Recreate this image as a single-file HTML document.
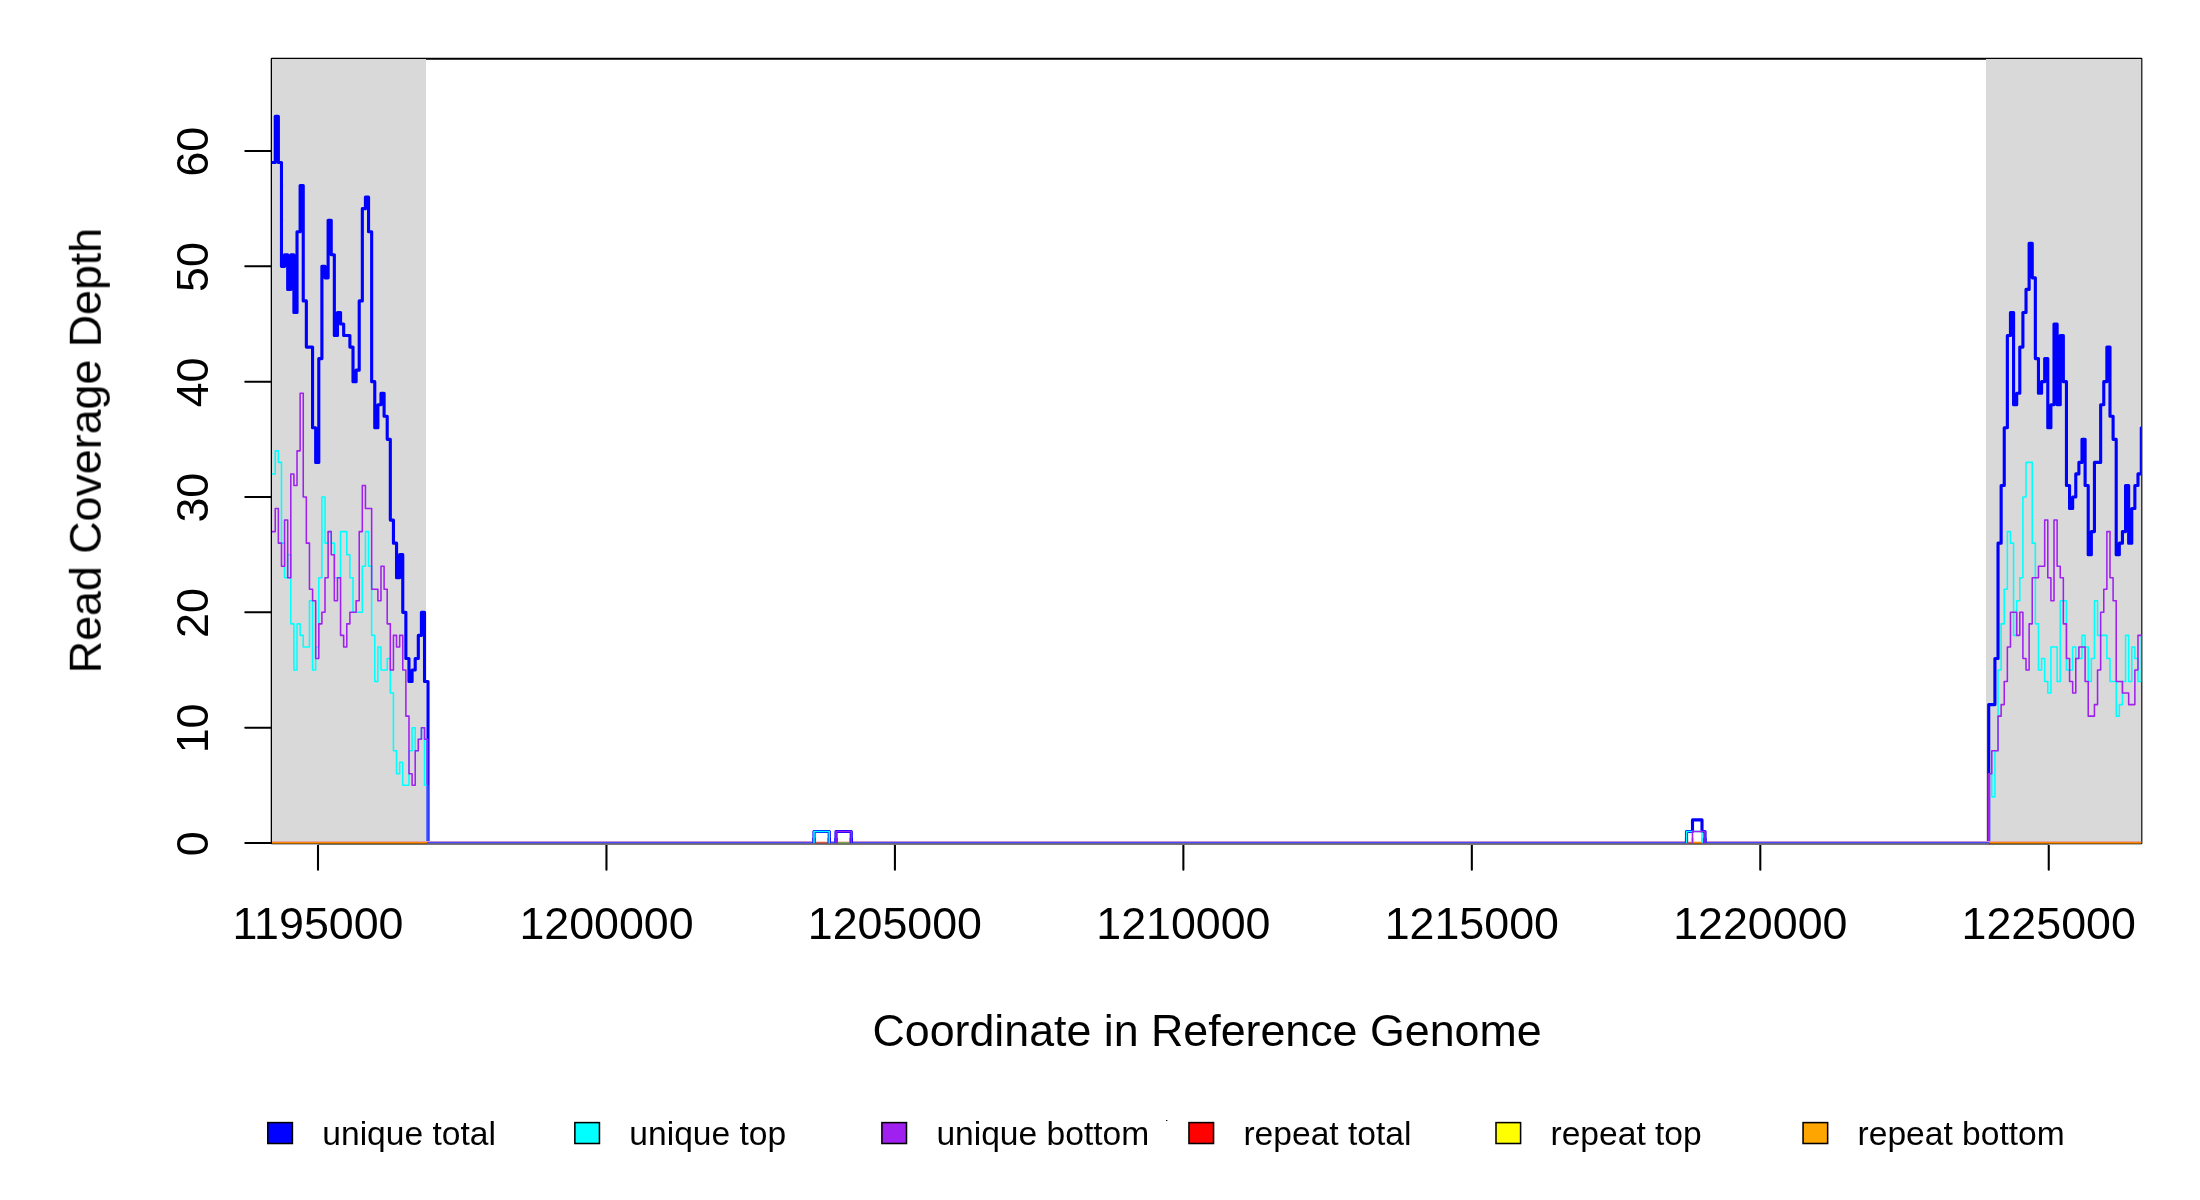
<!DOCTYPE html>
<html><head><meta charset="utf-8"><title>Read coverage</title>
<style>
html,body{margin:0;padding:0;background:#fff;}
body{width:2200px;height:1200px;overflow:hidden;font-family:"Liberation Sans",sans-serif;}
svg{display:block}
text{font-family:"Liberation Sans",sans-serif;fill:#000}
</style></head><body>
<svg width="2200" height="1200" viewBox="0 0 2200 1200">
<defs><clipPath id="plot"><rect x="272" y="59" width="1869.3" height="784"/></clipPath></defs>
<rect width="2200" height="1200" fill="#fff"/>

<g stroke="#000" stroke-width="2.08" fill="none" stroke-linecap="round" stroke-linejoin="round">
<path d="M271.75 843.2V58.75H2141.35V843.2"/>
<path d="M271.5 843.00H245.3"/>
<path d="M271.5 727.67H245.3"/>
<path d="M271.5 612.33H245.3"/>
<path d="M271.5 497.00H245.3"/>
<path d="M271.5 381.67H245.3"/>
<path d="M271.5 266.33H245.3"/>
<path d="M271.5 151.00H245.3"/>
<path d="M318 843.75H2048.75"/>
<path d="M318.00 843.5V869.8"/>
<path d="M606.46 843.5V869.8"/>
<path d="M894.92 843.5V869.8"/>
<path d="M1183.37 843.5V869.8"/>
<path d="M1471.83 843.5V869.8"/>
<path d="M1760.29 843.5V869.8"/>
<path d="M2048.75 843.5V869.8"/>
</g>
<rect x="272" y="59" width="154" height="784" fill="#d9d9d9"/>
<rect x="1986" y="59" width="155.25" height="784" fill="#d9d9d9"/>
<g fill="none" stroke-linejoin="round" stroke-linecap="round" clip-path="url(#plot)">
<path d="M272.00 162.53H275.25V116.40H278.36V162.53H281.47V266.33H284.58V254.80H287.69V289.40H290.80V254.80H293.91V312.47H297.02V231.73H300.13V185.60H303.24V300.93H306.35V347.07H309.46V347.07H312.57V427.80H315.68V462.40H318.79V358.60H321.90V266.33H325.01V277.87H328.12V220.20H331.23V254.80H334.34V335.53H337.45V312.47H340.56V324.00H343.67V335.53H346.78V335.53H349.89V347.07H353.00V381.67H356.11V370.13H359.22V300.93H362.33V208.67H365.44V197.13H368.55V231.73H371.66V381.67H374.77V427.80H377.88V404.73H380.99V393.20H384.10V416.27H387.21V439.33H390.32V520.07H393.43V543.13H396.54V577.73H399.65V554.67H402.76V612.33H405.87V658.47H408.98V681.53H412.09V670.00H415.20V658.47H418.31V635.40H421.42V612.33H424.53V681.53H428.00V843.00H814.00V831.47H829.25V843.00H836.00V831.47H851.25V843.00H1686.50V831.47H1692.50V819.93H1702.00V831.47H1705.00V843.00H1988.70V704.60H1991.81V704.60H1994.92V658.47H1998.03V543.13H2001.14V485.47H2004.25V427.80H2007.36V335.53H2010.47V312.47H2013.58V404.73H2016.69V393.20H2019.80V347.07H2022.91V312.47H2026.02V289.40H2029.13V243.27H2032.24V277.87H2035.35V358.60H2038.46V393.20H2041.57V381.67H2044.68V358.60H2047.79V427.80H2050.90V404.73H2054.01V324.00H2057.12V404.73H2060.23V335.53H2063.34V381.67H2066.45V485.47H2069.56V508.53H2072.67V497.00H2075.78V473.93H2078.89V462.40H2082.00V439.33H2085.11V485.47H2088.22V554.67H2091.33V531.60H2094.44V462.40H2097.55V462.40H2100.66V404.73H2103.77V381.67H2106.88V347.07H2109.99V416.27H2113.10V439.33H2116.21V554.67H2119.32V543.13H2122.43V531.60H2125.54V485.47H2128.65V543.13H2131.76V508.53H2134.87V485.47H2137.98V473.93H2141.30V427.80H2141.30" stroke="#0000ff" stroke-width="3.125"/>
<path d="M272.00 473.93H275.25V450.87H278.36V462.40H281.47V543.13H284.58V577.73H287.69V554.67H290.80V623.87H293.91V670.00H297.02V623.87H300.13V635.40H303.24V646.93H306.35V646.93H309.46V600.80H312.57V670.00H315.68V646.93H318.79V577.73H321.90V497.00H325.01V543.13H328.12V531.60H331.23V543.13H334.34V577.73H337.45V577.73H340.56V531.60H343.67V531.60H346.78V554.67H349.89V577.73H353.00V612.33H356.11V612.33H359.22V612.33H362.33V566.20H365.44V531.60H368.55V566.20H371.66V635.40H374.77V681.53H377.88V646.93H380.99V670.00H384.10V670.00H387.21V658.47H390.32V693.07H393.43V750.73H396.54V773.80H399.65V762.27H402.76V785.33H405.87V785.33H408.98V750.73H412.09V727.67H415.20V750.73H418.31V739.20H421.42V727.67H424.53V785.33H427.50V843.00H814.00V831.47H829.25V843.00H1686.50V831.47H1702.00V843.00H1988.70V773.80H1991.81V796.87H1994.92V750.73H1998.03V670.00H2001.14V623.87H2004.25V589.27H2007.36V531.60H2010.47V543.13H2013.58V635.40H2016.69V600.80H2019.80V577.73H2022.91V497.00H2026.02V462.40H2029.13V462.40H2032.24V543.13H2035.35V623.87H2038.46V670.00H2041.57V658.47H2044.68V681.53H2047.79V693.07H2050.90V646.93H2054.01V646.93H2057.12V681.53H2060.23V600.80H2063.34V600.80H2066.45V670.00H2069.56V670.00H2072.67V646.93H2075.78V658.47H2078.89V658.47H2082.00V635.40H2085.11V646.93H2088.22V681.53H2091.33V658.47H2094.44V600.80H2097.55V635.40H2100.66V635.40H2103.77V635.40H2106.88V658.47H2109.99V681.53H2113.10V681.53H2116.21V716.13H2119.32V704.60H2122.43V681.53H2125.54V635.40H2128.65V681.53H2131.76V646.93H2134.87V658.47H2137.98V681.53H2141.30V635.40H2141.30" stroke="#00ffff" stroke-width="1.56"/>
<path d="M272.00 531.60H275.25V508.53H278.36V543.13H281.47V566.20H284.58V520.07H287.69V577.73H290.80V473.93H293.91V485.47H297.02V450.87H300.13V393.20H303.24V497.00H306.35V543.13H309.46V589.27H312.57V600.80H315.68V658.47H318.79V623.87H321.90V612.33H325.01V577.73H328.12V531.60H331.23V554.67H334.34V600.80H337.45V577.73H340.56V635.40H343.67V646.93H346.78V623.87H349.89V612.33H353.00V612.33H356.11V600.80H359.22V531.60H362.33V485.47H365.44V508.53H368.55V508.53H371.66V589.27H374.77V589.27H377.88V600.80H380.99V566.20H384.10V589.27H387.21V623.87H390.32V670.00H393.43V635.40H396.54V646.93H399.65V635.40H402.76V670.00H405.87V716.13H408.98V773.80H412.09V785.33H415.20V750.73H418.31V739.20H421.42V727.67H424.53V739.20H427.50V843.00H836.00V831.47H851.25V843.00H1692.50V831.47H1705.00V843.00H1988.70V773.80H1991.81V750.73H1994.92V750.73H1998.03V716.13H2001.14V704.60H2004.25V681.53H2007.36V646.93H2010.47V612.33H2013.58V612.33H2016.69V635.40H2019.80V612.33H2022.91V658.47H2026.02V670.00H2029.13V623.87H2032.24V577.73H2035.35V577.73H2038.46V566.20H2041.57V566.20H2044.68V520.07H2047.79V577.73H2050.90V600.80H2054.01V520.07H2057.12V566.20H2060.23V577.73H2063.34V623.87H2066.45V658.47H2069.56V681.53H2072.67V693.07H2075.78V658.47H2078.89V646.93H2082.00V646.93H2085.11V681.53H2088.22V716.13H2091.33V716.13H2094.44V704.60H2097.55V670.00H2100.66V612.33H2103.77V589.27H2106.88V531.60H2109.99V577.73H2113.10V600.80H2116.21V681.53H2119.32V681.53H2122.43V693.07H2125.54V693.07H2128.65V704.60H2131.76V704.60H2134.87V670.00H2137.98V635.40H2141.30V635.40H2141.30" stroke="#a020f0" stroke-width="1.56"/>
</g>
<rect x="427.00" y="841" width="1562.40" height="1" fill="#c893d4"/><rect x="427.00" y="842" width="1562.40" height="1" fill="#4a4af8"/><rect x="427.00" y="843" width="1562.40" height="1" fill="#6a6292"/><rect x="427.00" y="844" width="1562.40" height="1" fill="#787878"/>
<rect x="272.00" y="841" width="46.00" height="1" fill="#e3a0a8"/><rect x="272.00" y="842" width="46.00" height="1" fill="#ff8c00"/><rect x="272.00" y="843" width="46.00" height="1" fill="#9f5d02"/><rect x="272.00" y="844" width="46.00" height="1" fill="#b0b4ba"/>
<rect x="318.00" y="841" width="109.00" height="1" fill="#e3a0a8"/><rect x="318.00" y="842" width="109.00" height="1" fill="#ff8c00"/><rect x="318.00" y="843" width="109.00" height="1" fill="#9a5c0a"/><rect x="318.00" y="844" width="109.00" height="1" fill="#70747a"/>
<rect x="1989.40" y="841" width="59.60" height="1" fill="#e3a0a8"/><rect x="1989.40" y="842" width="59.60" height="1" fill="#ff8c00"/><rect x="1989.40" y="843" width="59.60" height="1" fill="#9a5c0a"/><rect x="1989.40" y="844" width="59.60" height="1" fill="#70747a"/>
<rect x="2049.00" y="841" width="92.30" height="1" fill="#e3a0a8"/><rect x="2049.00" y="842" width="92.30" height="1" fill="#ff8c00"/><rect x="2049.00" y="843" width="92.30" height="1" fill="#9f5d02"/><rect x="2049.00" y="844" width="92.30" height="1" fill="#b0b4ba"/>
<rect x="815.50" y="841" width="12.20" height="1" fill="#fbd0c8"/><rect x="815.50" y="842" width="12.20" height="1" fill="#d05a5a"/><rect x="815.50" y="843" width="12.20" height="1" fill="#8a5050"/><rect x="815.50" y="844" width="12.20" height="1" fill="#787878"/>
<rect x="837.50" y="841" width="12.20" height="1" fill="#fbd0c8"/><rect x="837.50" y="842" width="12.20" height="1" fill="#78a858"/><rect x="837.50" y="843" width="12.20" height="1" fill="#6a7a50"/><rect x="837.50" y="844" width="12.20" height="1" fill="#787878"/>
<rect x="1688.00" y="841" width="4.00" height="1" fill="#fbd0c8"/><rect x="1688.00" y="842" width="4.00" height="1" fill="#d86060"/><rect x="1688.00" y="843" width="4.00" height="1" fill="#8a5050"/><rect x="1688.00" y="844" width="4.00" height="1" fill="#787878"/>
<rect x="1693.30" y="841" width="7.90" height="1" fill="#ffd8b0"/><rect x="1693.30" y="842" width="7.90" height="1" fill="#ff8c00"/><rect x="1693.30" y="843" width="7.90" height="1" fill="#9a5c0a"/><rect x="1693.30" y="844" width="7.90" height="1" fill="#787878"/>
<g fill="none" stroke-linejoin="round" stroke-linecap="butt" clip-path="url(#plot)">
<path d="M814 843V838M829.25 843V838M836 843V838M851.25 843V838M1686.5 843V838M1705 843V838" stroke="#0000ff" stroke-width="3.125"/>
<path d="M814 843V838M829.25 843V838M1686.5 843V838M1702 843V838" stroke="#00ffff" stroke-width="1.56"/>
<path d="M836 843V838M851.25 843V838M1692.5 843V838M1705 843V838" stroke="#a020f0" stroke-width="1.56"/>
</g>
<g style="will-change:opacity;opacity:0.999">
<text x="318.0" y="938.7" font-size="44.75" text-anchor="middle">1195000</text>
<text x="606.5" y="938.7" font-size="44.75" text-anchor="middle">1200000</text>
<text x="894.9" y="938.7" font-size="44.75" text-anchor="middle">1205000</text>
<text x="1183.4" y="938.7" font-size="44.75" text-anchor="middle">1210000</text>
<text x="1471.8" y="938.7" font-size="44.75" text-anchor="middle">1215000</text>
<text x="1760.3" y="938.7" font-size="44.75" text-anchor="middle">1220000</text>
<text x="2048.7" y="938.7" font-size="44.75" text-anchor="middle">1225000</text>
<text transform="translate(207.6 843.7) rotate(-90)" font-size="44.75" text-anchor="middle">0</text>
<text transform="translate(207.6 728.4) rotate(-90)" font-size="44.75" text-anchor="middle">10</text>
<text transform="translate(207.6 613.0) rotate(-90)" font-size="44.75" text-anchor="middle">20</text>
<text transform="translate(207.6 497.7) rotate(-90)" font-size="44.75" text-anchor="middle">30</text>
<text transform="translate(207.6 382.4) rotate(-90)" font-size="44.75" text-anchor="middle">40</text>
<text transform="translate(207.6 267.0) rotate(-90)" font-size="44.75" text-anchor="middle">50</text>
<text transform="translate(207.6 151.7) rotate(-90)" font-size="44.75" text-anchor="middle">60</text>
<text x="1207" y="1046.2" font-size="44.75" text-anchor="middle">Coordinate in Reference Genome</text>
<text transform="translate(100.8 450.5) rotate(-90)" font-size="44.75" text-anchor="middle">Read Coverage Depth</text>
<rect x="267.80" y="1122.6" width="24.6" height="20.9" fill="#0000ff" stroke="#000" stroke-width="1.55"/>
<text x="322.30" y="1144.8" font-size="33.6">unique total</text>
<rect x="574.85" y="1122.6" width="24.6" height="20.9" fill="#00ffff" stroke="#000" stroke-width="1.55"/>
<text x="629.35" y="1144.8" font-size="33.6">unique top</text>
<rect x="881.90" y="1122.6" width="24.6" height="20.9" fill="#a020f0" stroke="#000" stroke-width="1.55"/>
<text x="936.40" y="1144.8" font-size="33.6">unique bottom</text>
<rect x="1188.95" y="1122.6" width="24.6" height="20.9" fill="#ff0000" stroke="#000" stroke-width="1.55"/>
<text x="1243.45" y="1144.8" font-size="33.6">repeat total</text>
<rect x="1496.00" y="1122.6" width="24.6" height="20.9" fill="#ffff00" stroke="#000" stroke-width="1.55"/>
<text x="1550.50" y="1144.8" font-size="33.6">repeat top</text>
<rect x="1803.05" y="1122.6" width="24.6" height="20.9" fill="#ffa500" stroke="#000" stroke-width="1.55"/>
<text x="1857.55" y="1144.8" font-size="33.6">repeat bottom</text>
</g>
<rect x="1166" y="1120" width="1.35" height="1" fill="#000"/>
</svg></body></html>
